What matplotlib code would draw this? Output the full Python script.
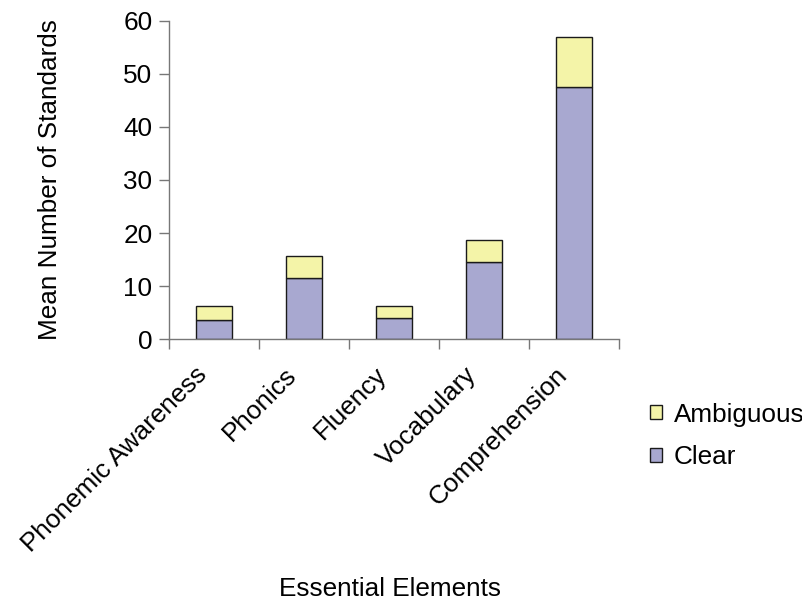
import numpy as np
import matplotlib
matplotlib.use("Agg")
import matplotlib.pyplot as plt
from matplotlib.patches import Patch
from matplotlib.transforms import ScaledTranslation

plt.rcParams['font.family'] = ['Liberation Sans', 'DejaVu Sans']

# mean number of standards per essential element
elements = ["Phonemic Awareness", "Phonics", "Fluency", "Vocabulary", "Comprehension"]
clear = [3.6, 11.5, 4.1, 14.6, 47.6]
ambiguous = [2.7, 4.2, 2.2, 4.1, 9.4]

CLEAR_COLOR = "#a8a8d0"
AMBIG_COLOR = "#f4f4a8"
EDGE = "#1a1a1a"
FS = 18.8

fig = plt.figure(figsize=(8.03, 6.01), dpi=100)
ax = fig.add_axes([0.2105, 0.4354, 0.5604, 0.5302])

x = np.arange(len(elements))
ax.bar(x, clear, width=0.4, color=CLEAR_COLOR, edgecolor=EDGE, linewidth=1)
ax.bar(x, ambiguous, width=0.4, bottom=clear, color=AMBIG_COLOR, edgecolor=EDGE, linewidth=1)

ax.set_xlim(-0.5, len(elements) - 0.5)
ax.set_ylim(0, 60)
ax.set_yticks(range(0, 61, 10))

# ticks between categories, labels at the centres
ax.set_xticks(np.arange(-0.5, len(elements), 1.0))
ax.set_xticklabels([])
ax.set_xticks(x, minor=True)
ax.set_xticklabels(elements, minor=True, rotation=45, ha="right", va="center",
                   rotation_mode="anchor", fontsize=FS)
ax.tick_params(axis="x", which="minor", length=0, pad=23)
ax.tick_params(axis="x", which="major", length=7, width=1, color="#777777", direction="out")
ax.tick_params(axis="y", length=7, width=1, color="#777777", direction="out", pad=5, labelsize=FS)

shift = ScaledTranslation(-0.11, 0, fig.dpi_scale_trans)
for lbl in ax.get_xticklabels(minor=True):
    lbl.set_transform(lbl.get_transform() + shift)

for side in ["top", "right"]:
    ax.spines[side].set_visible(False)
for side in ["left", "bottom"]:
    ax.spines[side].set_color("#777777")
    ax.spines[side].set_linewidth(1)

ax.set_ylabel("Mean Number of Standards", fontsize=FS)
ax.yaxis.set_label_coords(-0.238, 0.5)
ax.set_xlabel("Essential Elements", fontsize=FS, va="baseline")
ax.xaxis.set_label_coords(0.49, -0.807)

handles = [Patch(facecolor=AMBIG_COLOR, edgecolor=EDGE, label="Ambiguous"),
           Patch(facecolor=CLEAR_COLOR, edgecolor=EDGE, label="Clear")]
fig.legend(handles=handles, loc="center left", bbox_to_anchor=(0.8095, 0.2745),
           frameon=False, fontsize=FS, handlelength=0.45, handleheight=0.45,
           handletextpad=0.45, labelspacing=0.72, borderpad=0, borderaxespad=0)

fig.savefig("out.png", dpi=100)
